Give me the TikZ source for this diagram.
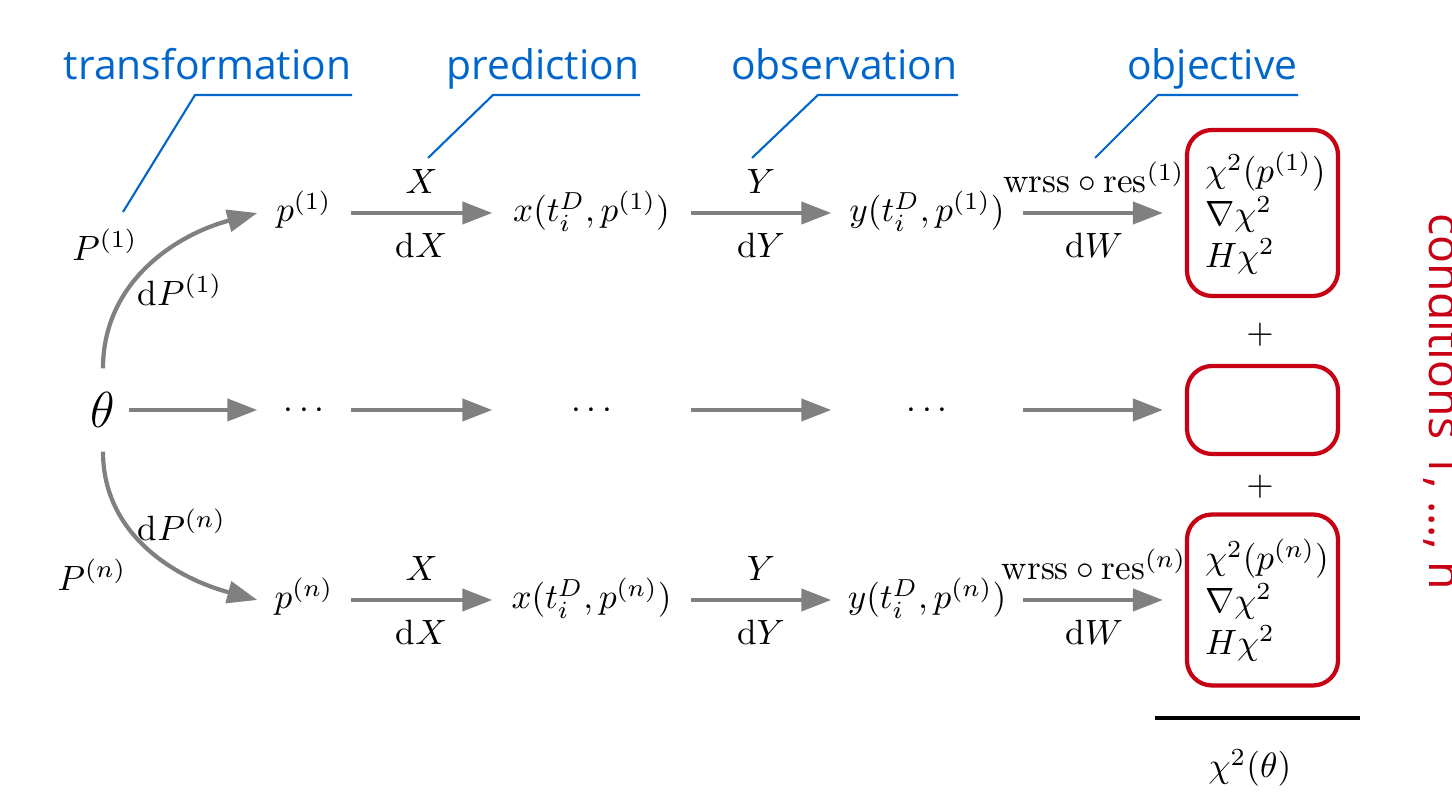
\documentclass[tikz,border=0pt]{standalone}
\usepackage{fontspec}
\newfontfamily\labfont{Open Sans}
\usetikzlibrary{arrows.meta}
\definecolor{lblue}{RGB}{0,102,204}
\definecolor{bred}{RGB}{200,0,20}
\definecolor{agray}{RGB}{128,128,128}
\tikzset{
  flow/.style={draw=agray,line width=1.2pt,-{Triangle[length=3mm,width=2.2mm]}},
  pointer/.style={draw=lblue,line width=0.6pt},
  lab/.style={font=\labfont\fontsize{11.6}{14}\selectfont,text=lblue,inner xsep=0pt,inner ysep=0.5mm,text depth=1mm,anchor=south east},
  row/.style={inner sep=0pt,text height=2.8mm,text depth=1mm},
  colp/.style={row,minimum width=0.92cm},
  colx/.style={row,minimum width=1.97cm},
  coly/.style={row,minimum width=1.90cm},
  objbox/.style={draw=bred,line width=1.2pt,rounded corners=2.5mm,minimum width=1.51cm,align=left,text width=1.15cm,inner xsep=0.18cm},
  ontop/.style={above=0.6mm},
  beneath/.style={below=0.6mm}
}
\begin{document}
\begin{tikzpicture}[x=1cm,y=1cm]
\useasboundingbox (0,0) rectangle (14.52,7.92);
\node[lab] (trlab) at (3.52,6.97) {transformation};
\node[lab] (prlab) at (6.40,6.97) {prediction};
\node[lab] (oblab) at (9.58,6.97) {observation};
\node[lab] (ojlab) at (12.98,6.97) {objective};
\coordinate (trtip) at (1.23,5.80);
\coordinate (prtip) at (4.28,6.34);
\coordinate (obtip) at (7.52,6.34);
\coordinate (ojtip) at (10.95,6.34);
\draw[pointer] (trlab.south east) -- ++(-1.57,0) -- (trtip);
\draw[pointer] (prlab.south east) -- ++(-1.47,0) -- (prtip);
\draw[pointer] (oblab.south east) -- ++(-1.40,0) -- (obtip);
\draw[pointer] (ojlab.south east) -- ++(-1.40,0) -- (ojtip);
\node[minimum width=0.5cm,minimum height=0.82cm,inner sep=0pt,font=\Large] (theta) at (1.03,3.82) {$\theta$};
\node[colp] (p1) at (3.04,5.79) {$p^{(1)}$};
\node[colx] (x1) at (5.915,5.79) {$x(t_i^D,p^{(1)})$};
\node[coly] (y1) at (9.27,5.79) {$y(t_i^D,p^{(1)})$};
\node[objbox,minimum height=1.66cm] (box1) at (12.625,5.79) {$\chi^2(p^{(1)})$\\$\nabla\chi^2$\\$H\chi^2$};
\node[colp] (m1) at (3.04,3.82) {$\cdots$};
\node[colx] (m2) at (5.915,3.82) {$\cdots$};
\node[coly] (m3) at (9.27,3.82) {$\cdots$};
\node[objbox,minimum height=0.88cm] (box2) at (12.625,3.82) {};
\node[colp] (pn) at (3.04,1.92) {$p^{(n)}$};
\node[colx] (xn) at (5.915,1.92) {$x(t_i^D,p^{(n)})$};
\node[coly] (yn) at (9.27,1.92) {$y(t_i^D,p^{(n)})$};
\node[objbox,minimum height=1.71cm] (box3) at (12.625,1.92) {$\chi^2(p^{(n)})$\\$\nabla\chi^2$\\$H\chi^2$};
\draw[flow] (theta.north) to[out=90,in=195] (p1.west);
\draw[flow] (theta.south) to[out=-90,in=165] (pn.west);
\node (P1) at (1.05,5.47) {$P^{(1)}$};
\node (dP1) at (1.80,5.02) {$\mathrm{d}P^{(1)}$};
\node (Pn) at (0.92,2.17) {$P^{(n)}$};
\node (dPn) at (1.82,2.67) {$\mathrm{d}P^{(n)}$};
\draw[flow] (p1.east) -- node[ontop] (X1) {$X$} node[beneath] (dX1) {$\mathrm{d}X$} (x1.west);
\draw[flow] (x1.east) -- node[ontop] (Y1) {$Y$} node[beneath] (dY1) {$\mathrm{d}Y$} (y1.west);
\draw[flow,shorten >=0.22cm] (y1.east) -- node[ontop,pos=0.44] (W1) {$\mathrm{wrss}\circ\mathrm{res}^{(1)}$} node[beneath,pos=0.44] (dW1) {$\mathrm{d}W$} (box1.west);
\draw[flow] (theta.east) -- (m1.west);
\draw[flow] (m1.east) -- (m2.west);
\draw[flow] (m2.east) -- (m3.west);
\draw[flow,shorten >=0.22cm] (m3.east) -- (box2.west);
\draw[flow] (pn.east) -- node[ontop] (Xn) {$X$} node[beneath] (dXn) {$\mathrm{d}X$} (xn.west);
\draw[flow] (xn.east) -- node[ontop] (Yn) {$Y$} node[beneath] (dYn) {$\mathrm{d}Y$} (yn.west);
\draw[flow,shorten >=0.22cm] (yn.east) -- node[ontop,pos=0.44] (Wn) {$\mathrm{wrss}\circ\mathrm{res}^{(n)}$} node[beneath,pos=0.44] (dWn) {$\mathrm{d}W$} (box3.west);
\node (plus1) at (12.6,4.57) {$+$};
\node (plus2) at (12.6,3.05) {$+$};
\draw[line width=1.2pt] (11.55,0.74) -- (13.6,0.74);
\node (chitheta) at (12.5,0.24) {$\chi^2(\theta)$};
\node[font=\labfont\fontsize{13.2}{16}\selectfont,text=bred,rotate=-90,anchor=base] (cond) at (14.29,3.90) {conditions 1, ..., n};
\end{tikzpicture}
\end{document}
